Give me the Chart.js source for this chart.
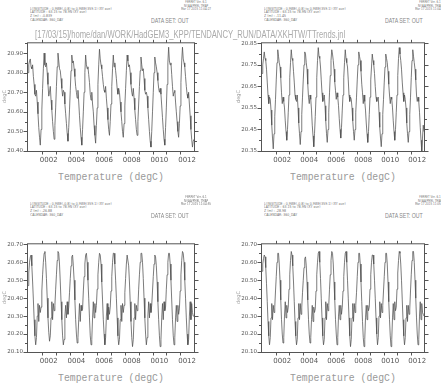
<!DOCTYPE html>
<html>
<head>
<meta charset="utf-8">
<script src="https://cdn.jsdelivr.net/npm/chart.js@4.4.1/dist/chart.umd.min.js"></script>
<style>
body { margin: 0; background: #fff; }
#page { position: relative; width: 441px; height: 384px; overflow: hidden; font-family: 'DejaVu Sans', sans-serif; }
#page div { position: absolute; white-space: nowrap; transform-origin: 0 0; }
#page canvas { position: absolute; }
.hdr { font-size: 8px; line-height: 9px; color: #777; }
.ver { font-size: 8px; line-height: 8px; color: #777; text-align: center; }
.ds { font: 7px 'Liberation Sans'; color: #888; }
.ttl { font: 11px 'Liberation Sans'; line-height: 12px; color: #aaa; }
.xt { font: 11px 'Liberation Mono'; line-height: 12px; color: #999; }
.yt { font: 5px 'DejaVu Sans'; line-height: 5px; color: #999; }
</style>
</head>
<body>
<div id="page"></div>
<script>
// 12 model years, one value every 20 days (18 per year) + closing point
const yearLabels = ['0002', '0004', '0006', '0008', '0010', '0012'];
const yearLabelPos = [1.5, 3.5, 5.5, 7.5, 9.5, 11.5];
const stepsPerYear = 18;

// Z = -0.839 m
const tempZ1 = [
  20.80, 20.84, 20.86, 20.87, 20.83, 20.82, 20.84, 20.78, 20.74, 20.69, 20.68, 20.71, 20.65, 20.59, 20.52, 20.47, 20.43, 20.51,
  20.61, 20.72, 20.82, 20.90, 20.84, 20.83, 20.85, 20.80, 20.74, 20.68, 20.70, 20.73, 20.66, 20.61, 20.55, 20.50, 20.46, 20.53,
  20.62, 20.73, 20.83, 20.90, 20.86, 20.82, 20.81, 20.77, 20.72, 20.68, 20.71, 20.70, 20.64, 20.59, 20.54, 20.49, 20.45, 20.52,
  20.61, 20.71, 20.81, 20.89, 20.85, 20.86, 20.82, 20.78, 20.73, 20.70, 20.67, 20.71, 20.65, 20.58, 20.52, 20.47, 20.43, 20.51,
  20.60, 20.70, 20.80, 20.89, 20.84, 20.82, 20.83, 20.79, 20.75, 20.69, 20.66, 20.70, 20.64, 20.60, 20.53, 20.48, 20.44, 20.53,
  20.62, 20.74, 20.84, 20.92, 20.87, 20.84, 20.82, 20.78, 20.74, 20.71, 20.70, 20.73, 20.67, 20.62, 20.56, 20.51, 20.48, 20.55,
  20.64, 20.73, 20.82, 20.89, 20.83, 20.85, 20.81, 20.77, 20.72, 20.69, 20.72, 20.70, 20.65, 20.60, 20.55, 20.50, 20.47, 20.54,
  20.63, 20.72, 20.81, 20.89, 20.86, 20.83, 20.84, 20.80, 20.74, 20.70, 20.68, 20.72, 20.67, 20.61, 20.56, 20.51, 20.48, 20.55,
  20.64, 20.73, 20.81, 20.88, 20.84, 20.81, 20.82, 20.77, 20.71, 20.69, 20.70, 20.68, 20.62, 20.56, 20.50, 20.45, 20.42, 20.50,
  20.60, 20.70, 20.80, 20.88, 20.85, 20.83, 20.80, 20.76, 20.72, 20.70, 20.72, 20.69, 20.63, 20.57, 20.51, 20.46, 20.43, 20.52,
  20.62, 20.74, 20.85, 20.93, 20.86, 20.84, 20.85, 20.79, 20.73, 20.68, 20.70, 20.71, 20.65, 20.60, 20.55, 20.50, 20.47, 20.54,
  20.63, 20.75, 20.86, 20.93, 20.87, 20.85, 20.83, 20.78, 20.73, 20.69, 20.67, 20.70, 20.64, 20.58, 20.51, 20.46, 20.42, 20.45,
  20.46
];

// Z = -11.45 m
const tempZ2 = [
  20.71, 20.75, 20.78, 20.81, 20.78, 20.77, 20.73, 20.67, 20.61, 20.57, 20.60, 20.59, 20.54, 20.47, 20.41, 20.36, 20.43, 20.51,
  20.59, 20.68, 20.76, 20.82, 20.79, 20.76, 20.74, 20.69, 20.62, 20.57, 20.60, 20.58, 20.55, 20.49, 20.44, 20.40, 20.45, 20.53,
  20.61, 20.69, 20.76, 20.82, 20.78, 20.77, 20.72, 20.67, 20.61, 20.59, 20.58, 20.61, 20.55, 20.48, 20.43, 20.38, 20.44, 20.52,
  20.60, 20.68, 20.75, 20.81, 20.80, 20.76, 20.73, 20.66, 20.60, 20.57, 20.61, 20.59, 20.54, 20.47, 20.42, 20.37, 20.43, 20.51,
  20.60, 20.69, 20.77, 20.83, 20.79, 20.78, 20.74, 20.68, 20.62, 20.58, 20.59, 20.61, 20.56, 20.49, 20.43, 20.39, 20.45, 20.53,
  20.62, 20.70, 20.77, 20.82, 20.80, 20.77, 20.73, 20.67, 20.63, 20.59, 20.62, 20.60, 20.56, 20.50, 20.45, 20.41, 20.46, 20.54,
  20.61, 20.69, 20.76, 20.82, 20.78, 20.76, 20.74, 20.68, 20.61, 20.58, 20.60, 20.59, 20.55, 20.49, 20.44, 20.40, 20.45, 20.53,
  20.60, 20.68, 20.75, 20.81, 20.79, 20.77, 20.72, 20.66, 20.62, 20.57, 20.61, 20.58, 20.54, 20.48, 20.43, 20.39, 20.44, 20.52,
  20.60, 20.68, 20.74, 20.80, 20.77, 20.75, 20.71, 20.65, 20.60, 20.58, 20.59, 20.60, 20.53, 20.46, 20.41, 20.37, 20.43, 20.52,
  20.59, 20.67, 20.74, 20.80, 20.78, 20.76, 20.72, 20.66, 20.61, 20.57, 20.60, 20.59, 20.55, 20.49, 20.44, 20.40, 20.45, 20.53,
  20.61, 20.70, 20.78, 20.83, 20.80, 20.77, 20.73, 20.67, 20.62, 20.58, 20.61, 20.59, 20.55, 20.48, 20.43, 20.39, 20.44, 20.52,
  20.60, 20.69, 20.77, 20.82, 20.79, 20.76, 20.73, 20.68, 20.61, 20.58, 20.60, 20.58, 20.53, 20.46, 20.40, 20.35, 20.41, 20.47,
  20.44
];

// Z = -26.88 m
const tempZ3 = [
  20.47, 20.54, 20.60, 20.63, 20.64, 20.58, 20.49, 20.39, 20.28, 20.19, 20.14, 20.18, 20.30, 20.37, 20.27, 20.36, 20.32, 20.35,
  20.44, 20.53, 20.60, 20.65, 20.66, 20.60, 20.51, 20.40, 20.29, 20.21, 20.16, 20.19, 20.29, 20.38, 20.28, 20.37, 20.33, 20.36,
  20.45, 20.53, 20.61, 20.66, 20.65, 20.59, 20.49, 20.38, 20.28, 20.19, 20.14, 20.17, 20.30, 20.36, 20.29, 20.38, 20.31, 20.35,
  20.43, 20.51, 20.58, 20.63, 20.64, 20.58, 20.50, 20.39, 20.28, 20.20, 20.15, 20.18, 20.28, 20.37, 20.27, 20.36, 20.33, 20.34,
  20.44, 20.52, 20.59, 20.64, 20.65, 20.60, 20.50, 20.40, 20.29, 20.19, 20.14, 20.17, 20.29, 20.38, 20.29, 20.37, 20.32, 20.36,
  20.45, 20.53, 20.60, 20.65, 20.64, 20.59, 20.49, 20.39, 20.28, 20.20, 20.14, 20.18, 20.30, 20.37, 20.28, 20.35, 20.31, 20.35,
  20.44, 20.52, 20.60, 20.65, 20.65, 20.59, 20.50, 20.40, 20.29, 20.19, 20.14, 20.17, 20.28, 20.36, 20.27, 20.37, 20.32, 20.36,
  20.43, 20.51, 20.59, 20.64, 20.64, 20.58, 20.49, 20.38, 20.27, 20.18, 20.13, 20.17, 20.29, 20.37, 20.28, 20.36, 20.33, 20.35,
  20.45, 20.53, 20.60, 20.65, 20.65, 20.60, 20.51, 20.40, 20.29, 20.20, 20.14, 20.18, 20.30, 20.38, 20.29, 20.37, 20.32, 20.36,
  20.44, 20.52, 20.59, 20.64, 20.63, 20.58, 20.49, 20.38, 20.28, 20.19, 20.13, 20.17, 20.29, 20.37, 20.28, 20.38, 20.33, 20.35,
  20.45, 20.53, 20.60, 20.65, 20.65, 20.59, 20.50, 20.39, 20.28, 20.19, 20.14, 20.18, 20.29, 20.36, 20.27, 20.36, 20.31, 20.34,
  20.44, 20.53, 20.61, 20.66, 20.65, 20.60, 20.50, 20.40, 20.29, 20.20, 20.14, 20.17, 20.30, 20.38, 20.28, 20.37, 20.32, 20.30,
  20.30
];

// Z = -28.98 m
const tempZ4 = [
  20.55, 20.59, 20.62, 20.64, 20.63, 20.57, 20.48, 20.38, 20.27, 20.19, 20.14, 20.18, 20.29, 20.37, 20.28, 20.36, 20.32, 20.35,
  20.44, 20.52, 20.60, 20.65, 20.65, 20.59, 20.50, 20.39, 20.28, 20.20, 20.15, 20.18, 20.30, 20.38, 20.29, 20.36, 20.32, 20.35,
  20.45, 20.53, 20.61, 20.66, 20.64, 20.58, 20.49, 20.38, 20.27, 20.19, 20.14, 20.17, 20.29, 20.37, 20.28, 20.37, 20.31, 20.35,
  20.43, 20.50, 20.57, 20.62, 20.63, 20.58, 20.49, 20.39, 20.28, 20.20, 20.15, 20.18, 20.28, 20.36, 20.27, 20.35, 20.32, 20.34,
  20.44, 20.53, 20.60, 20.65, 20.66, 20.60, 20.51, 20.40, 20.29, 20.19, 20.14, 20.17, 20.29, 20.38, 20.28, 20.37, 20.33, 20.36,
  20.45, 20.53, 20.61, 20.66, 20.65, 20.59, 20.49, 20.39, 20.28, 20.20, 20.14, 20.18, 20.30, 20.36, 20.28, 20.36, 20.31, 20.35,
  20.44, 20.52, 20.60, 20.65, 20.66, 20.60, 20.50, 20.40, 20.29, 20.19, 20.13, 20.17, 20.29, 20.37, 20.27, 20.37, 20.32, 20.36,
  20.43, 20.52, 20.60, 20.65, 20.65, 20.59, 20.49, 20.38, 20.27, 20.18, 20.13, 20.17, 20.29, 20.36, 20.28, 20.36, 20.33, 20.35,
  20.45, 20.53, 20.60, 20.64, 20.64, 20.59, 20.50, 20.40, 20.29, 20.20, 20.14, 20.18, 20.30, 20.38, 20.29, 20.37, 20.32, 20.36,
  20.44, 20.52, 20.60, 20.65, 20.65, 20.59, 20.49, 20.38, 20.28, 20.19, 20.13, 20.17, 20.29, 20.37, 20.28, 20.38, 20.33, 20.35,
  20.45, 20.54, 20.61, 20.66, 20.65, 20.59, 20.50, 20.39, 20.28, 20.19, 20.14, 20.18, 20.29, 20.36, 20.27, 20.36, 20.31, 20.34,
  20.44, 20.53, 20.61, 20.66, 20.66, 20.60, 20.50, 20.40, 20.29, 20.20, 20.14, 20.17, 20.30, 20.38, 20.28, 20.37, 20.32, 20.31,
  20.30
];

const ticksZ1 = [20.40, 20.50, 20.60, 20.70, 20.80, 20.90];
const ticksZ2 = [20.35, 20.45, 20.55, 20.65, 20.75, 20.85];
const ticksZ34 = [20.10, 20.20, 20.30, 20.40, 20.50, 20.60, 20.70];

const titleText = '[17/03/15]/home/dan/WORK/HadGEM3_KPP/TENDANCY_RUN/DATA/XKHTW/TTrends.jnl';

// box = plot frame in page pixels, ty = top of the header block
const panels = [
  { data: tempZ1, ticks: ticksZ1, min: 20.40, max: 20.95, z: '-0.839', stamp: 'Mar 17 2015 11:04:27',
    ox: 0, ty: 0, box: [28, 41, 194, 151] },
  { data: tempZ2, ticks: ticksZ2, min: 20.35, max: 20.85, z: '-11.45', stamp: 'Mar 17 2015 11:04:41',
    ox: 234, ty: 0, box: [262, 41, 424, 151] },
  { data: tempZ3, ticks: ticksZ34, min: 20.10, max: 20.70, z: '-26.88', stamp: 'Mar 17 2015 11:04:55',
    ox: 0, ty: 195, box: [28, 242, 194, 352] },
  { data: tempZ4, ticks: ticksZ34, min: 20.10, max: 20.70, z: '-28.98', stamp: 'Mar 17 2015 11:05:09',
    ox: 234, ty: 195, box: [262, 242, 424, 352] }
];

const page = document.getElementById('page');

function addText(cls, html, left, top) {
  const el = document.createElement('div');
  el.className = cls;
  el.innerHTML = html;
  el.style.left = left + 'px';
  el.style.top = top + 'px';
  page.appendChild(el);
  return el;
}

// squeeze a text box to a target width, with its own vertical scale
function fit(el, w, sy) {
  const nat = el.offsetWidth;
  el.style.transform = 'scale(' + (w / nat) + ',' + sy + ')';
}

const ferretFrame = {
  id: 'ferretFrame',
  afterDraw(chart) {
    const ctx = chart.ctx;
    const a = chart.chartArea;
    const xs = chart.scales.x;
    const ys = chart.scales.y;
    const p = chart.options.plugins.ferretFrame;
    ctx.save();
    ctx.strokeStyle = '#555';
    ctx.lineWidth = 1;
    const l = a.left - 0.5, r = a.right + 0.5, t = a.top - 0.5, b = a.bottom + 0.5;
    ctx.strokeRect(l, t, r - l, b - t);
    ctx.beginPath();
    // y ticks, major on labels, minor halfway
    for (let v = p.min; v <= p.max + 1e-6; v += 0.05) {
      const major = p.ticks.some(function (tv) { return Math.abs(tv - v) < 1e-6; });
      const len = major ? 4 : 2.5;
      const yy = Math.round(ys.getPixelForValue(v)) + 0.5;
      ctx.moveTo(l - len, yy); ctx.lineTo(l, yy);
      ctx.moveTo(r, yy); ctx.lineTo(r + len, yy);
    }
    // year boundaries on top and bottom
    for (let yr = 1; yr < 12; yr++) {
      const xx = Math.round(xs.getPixelForValue(yr)) + 0.5;
      ctx.moveTo(xx, t - 3); ctx.lineTo(xx, t);
      ctx.moveTo(xx, b); ctx.lineTo(xx, b + 3);
    }
    ctx.stroke();
    ctx.restore();
  }
};

panels.forEach(function (p) {
  const padL = 28, padT = 6, padR = 8, padB = 16;
  const w = p.box[2] - p.box[0] + padL + padR;
  const h = p.box[3] - p.box[1] + padT + padB;
  const canvas = document.createElement('canvas');
  canvas.style.left = (p.box[0] - padL) + 'px';
  canvas.style.top = (p.box[1] - padT) + 'px';
  canvas.style.width = w + 'px';
  canvas.style.height = h + 'px';
  canvas.width = w;
  canvas.height = h;
  page.appendChild(canvas);

  const points = p.data.map(function (v, i) {
    return { x: i / stepsPerYear, y: v };
  });

  new Chart(canvas, {
    type: 'line',
    data: {
      datasets: [{
        data: points,
        borderColor: '#505050',
        borderWidth: 0.75,
        pointRadius: 0,
        tension: 0
      }]
    },
    options: {
      responsive: false,
      animation: false,
      events: [],
      layout: { padding: { left: 0, top: padT, right: padR, bottom: 0 } },
      plugins: {
        legend: { display: false },
        tooltip: { enabled: false },
        ferretFrame: { min: p.min, max: p.max, ticks: p.ticks }
      },
      scales: {
        x: {
          type: 'linear',
          min: 0,
          max: 12,
          border: { display: false },
          grid: { display: false, drawTicks: false },
          afterFit: function (s) { s.height = padB; },
          afterBuildTicks: function (s) {
            s.ticks = yearLabelPos.map(function (v) { return { value: v }; });
          },
          ticks: {
            autoSkip: false,
            maxRotation: 0,
            padding: 5,
            color: '#555',
            font: { family: 'DejaVu Sans', size: 7 },
            callback: function (v, i) { return yearLabels[i]; }
          }
        },
        y: {
          min: p.min,
          max: p.max,
          border: { display: false },
          grid: { display: false, drawTicks: false },
          afterFit: function (s) { s.width = padL; },
          afterBuildTicks: function (s) {
            s.ticks = p.ticks.map(function (v) { return { value: v }; });
          },
          ticks: {
            padding: 5,
            color: '#555',
            font: { family: 'DejaVu Sans', size: 5.5 },
            callback: function (v) { return Number(v).toFixed(2); }
          }
        }
      }
    },
    plugins: [ferretFrame]
  });

  // Ferret header texts
  const ver = addText('ver', 'FERRET Ver. 6.1<br>NOAA/PMEL TMAP<br>' + p.stamp, 0, p.ty + 1);
  const vw = 30;
  fit(ver, vw, 0.4);
  ver.style.left = (p.ox + 196 - vw / 2) + 'px';

  const hdr = addText('hdr',
    'LONGITUDE : 0.9WE(-0.8) to 0.9WE(359.1) (XY ave)<br>' +
    'LATITUDE : 63.15 to 78.9N (XY ave)<br>' +
    'Z (m) : ' + p.z + '<br>' +
    'CALENDAR: 360_DAY', p.ox + 30, p.ty + 7);
  fit(hdr, 82, 0.4);

  const ds = addText('ds', 'DATA SET: OUT', p.ox + 151, p.ty + 17);
  fit(ds, 38, 1);

  const cx = (p.box[0] + p.box[2]) / 2;
  const xt = addText('xt', 'Temperature (degC)', cx - 53, p.box[3] + 20);
  fit(xt, 106, 1);

  const yt = addText('yt', 'degC', 0, 0);
  const yw = yt.offsetWidth;
  yt.style.left = (p.box[0] - 26) + 'px';
  yt.style.top = ((p.box[1] + p.box[3]) / 2 + yw / 2) + 'px';
  yt.style.transform = 'rotate(-90deg)';
});

const title = addText('ttl', titleText, 35, 28);
fit(title, 310, 1);
</script>
</body>
</html>
